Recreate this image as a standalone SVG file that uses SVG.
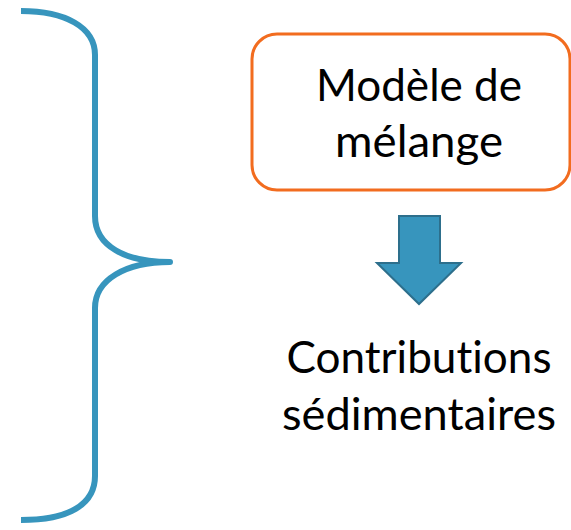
<svg xmlns="http://www.w3.org/2000/svg" width="571" height="530" viewBox="0 0 571 530">
<style>
.lbl{font-family:"Lato","Open Sans","Liberation Sans",sans-serif;font-size:45px;fill:#000;text-anchor:middle;font-variant-ligatures:none;font-feature-settings:"liga" 0,"clig" 0}
.brace{fill:none;stroke:#3795BD;stroke-width:6;stroke-linecap:butt;stroke-linejoin:round}
</style>
<rect width="571" height="530" fill="#fff"/>
<g id="brace">
<path class="brace" d="M 21 11 C 65 11 95 27 95 55 L 95 216 C 95 246 125 262 170 262 C 125 262 95 280 95 308 L 95 476 C 95 505 68 520 21 520"/>
</g>
<g id="node-modele">
<rect x="252" y="34" width="318" height="156" rx="25" ry="25" fill="#fff" stroke="#F26C1F" stroke-width="3"/>
<text class="lbl" x="419" y="101" textLength="206" lengthAdjust="spacingAndGlyphs">Modèle de</text>
<text class="lbl" x="419" y="157" textLength="168" lengthAdjust="spacingAndGlyphs">mélange</text>
</g>
<g id="connectors">
<polygon points="399,216 440,216 440,263 461,263 419,304 377,263 399,263" fill="#3795BD" stroke="#2D6F8C" stroke-width="2" stroke-linejoin="miter"/>
</g>
<g id="node-contributions">
<text class="lbl" x="419" y="373" textLength="265" lengthAdjust="spacingAndGlyphs">Contributions</text>
<text class="lbl" x="419" y="430" textLength="274" lengthAdjust="spacingAndGlyphs">sédimentaires</text>
</g>
</svg>
